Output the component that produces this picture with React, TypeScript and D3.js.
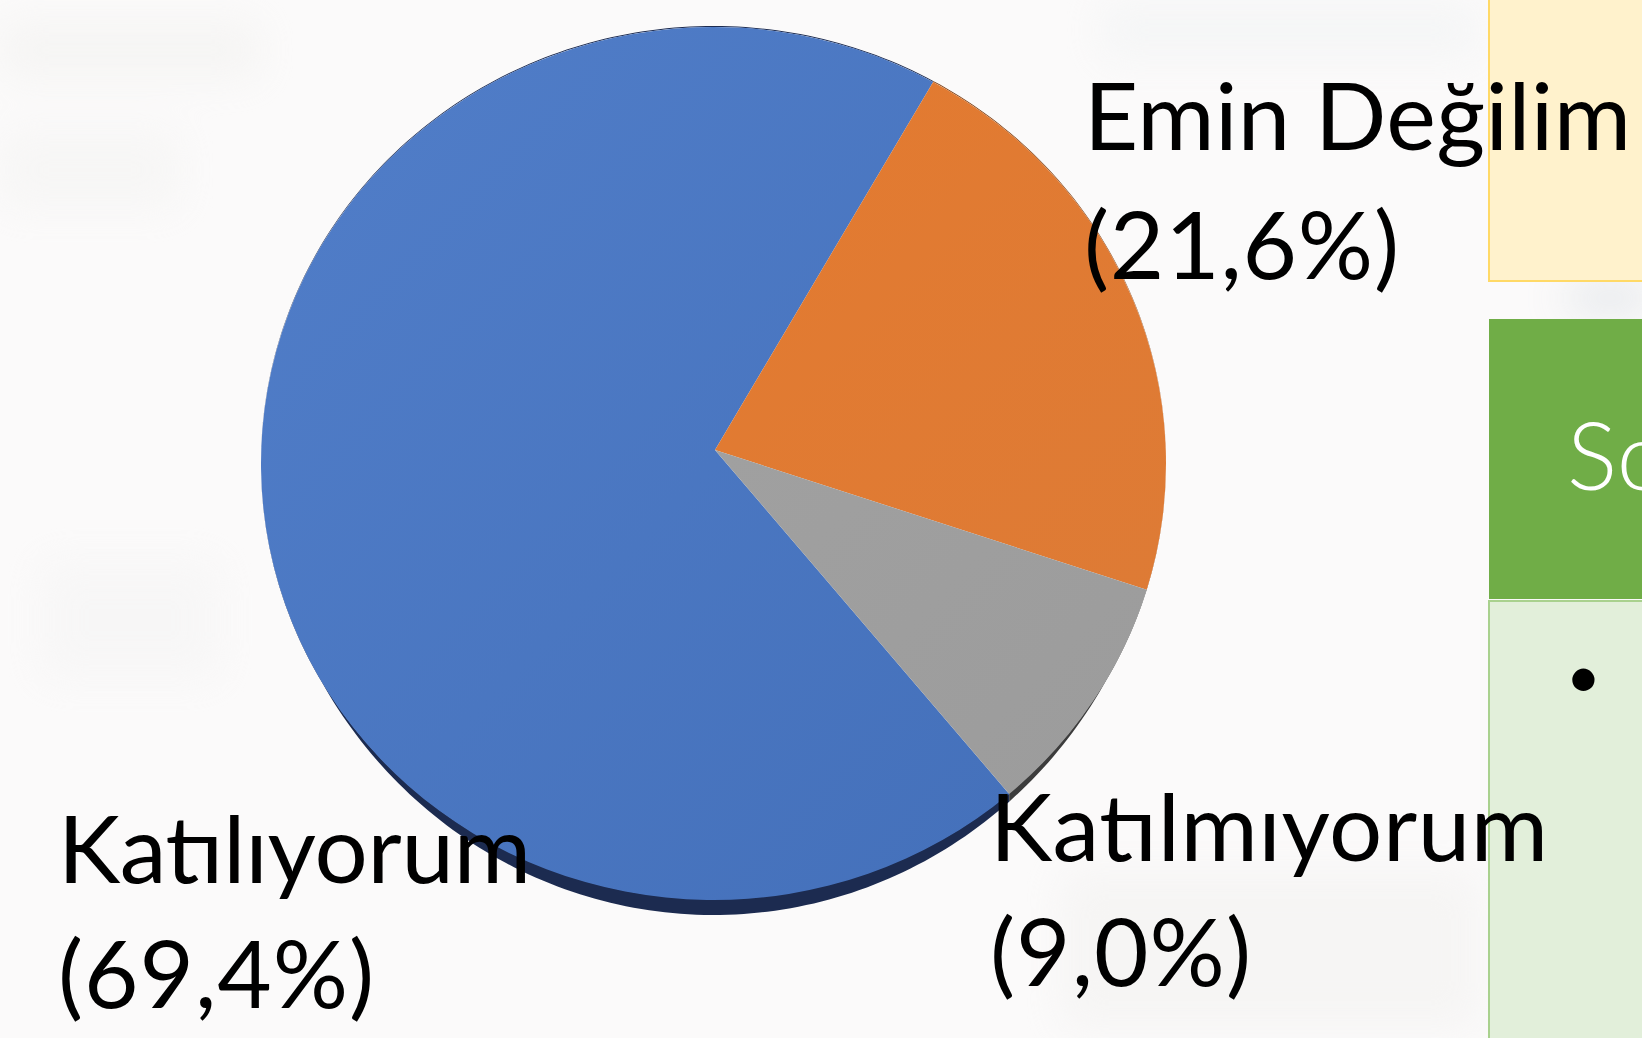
import React from "react";
import * as d3 from "d3";

// ---- data ----
const categories = ["Katılıyorum", "Emin Değilim", "Katılmıyorum"];
const values = [69.4, 21.6, 9.0];
const percentLabels = ["(69,4%)", "(21,6%)", "(9,0%)"];
const topColors = [
  ["#517ec9", "#436fb9"],
  ["#e67a2d", "#dc7b37"],
  ["#a5a5a5", "#9b9b9b"],
];
const sideColors = ["#1c2b50", "#7a3d12", "#3c3c3c"];
const panelTitle = "So";
const bulletChar = "•";

const W = 1642;
const H = 1038;

export default function App() {
  const cx = 713.5;
  const cy = 463.5;
  const rx = 452.5;
  const ry = 436.5;
  const apex = { x: 715, y: 450 };
  const depthMax = 15;
  const depthCut = 0.5;
  const start = (139.2 * Math.PI) / 180;

  const pie = d3
    .pie<number>()
    .sort(null)
    .value((d) => d)
    .startAngle(start)
    .endAngle(start + 2 * Math.PI);
  const arcs = pie(values);

  const pt = (a: number, dy = 0): [number, number] => [
    cx + rx * Math.sin(a),
    cy - ry * Math.cos(a) + dy,
  ];
  const depthAt = (a: number) =>
    depthMax * Math.max(0, (-Math.cos(a) - depthCut) / (1 - depthCut));

  const topPath = (a0: number, a1: number) => {
    const p0 = pt(a0);
    const p1 = pt(a1);
    const large = a1 - a0 > Math.PI ? 1 : 0;
    return `M${apex.x},${apex.y}L${p0[0]},${p0[1]}A${rx},${ry} 0 ${large} 1 ${p1[0]},${p1[1]}Z`;
  };
  const line = d3.line();
  const sidePath = (a0: number, a1: number) => {
    const n = Math.max(8, Math.ceil(((a1 - a0) * 180) / Math.PI));
    const angles = d3.range(n + 1).map((k) => a0 + ((a1 - a0) * k) / n);
    const upper = angles.map((a) => pt(a, -1));
    const lower = angles
      .slice()
      .reverse()
      .map((a) => pt(a, depthAt(a)));
    return line([...upper, ...lower]) + "Z";
  };

  const font = "Lato, 'Noto Sans', sans-serif";
  const fs = 94;

  // label placement: [x, nameBaseline, pctBaseline, nameWidth, pctWidth]
  const labelPos = [
    [58, 883, 1008, 473, 316],
    [1084, 150, 279, 547, 315],
    [990, 861, 986, 558, 261],
  ];

  return (
    <svg
      width={W}
      height={H}
      style={{ position: "absolute", left: 0, top: 0, display: "block" }}
    >
      <defs>
        {topColors.map((c, i) => (
          <linearGradient
            key={i}
            id={`g${i}`}
            gradientUnits="userSpaceOnUse"
            x1={cx - rx}
            y1={cy - ry}
            x2={cx + rx}
            y2={cy + ry}
          >
            <stop offset="0" stopColor={c[0]} />
            <stop offset="1" stopColor={c[1]} />
          </linearGradient>
        ))}
        <filter id="blur" x="-50%" y="-50%" width="200%" height="200%">
          <feGaussianBlur stdDeviation="20" />
        </filter>
      </defs>

      {/* background */}
      <rect x={0} y={0} width={W} height={H} fill="#fbfafa" />
      <g filter="url(#blur)" opacity={0.45}>
        <rect x={0} y={20} width={260} height={60} fill="#efefec" />
        <rect x={0} y={130} width={180} height={80} fill="#f2f2f0" />
        <rect x={40} y={560} width={180} height={120} fill="#f3f3f3" />
        <rect x={1100} y={0} width={380} height={60} fill="#eef1f2" />
        <rect x={1060} y={870} width={420} height={160} fill="#f0efed" />
        <ellipse cx={1610} cy={298} rx={50} ry={12} fill="#b9c4cf" />
      </g>

      {/* pie side (depth) */}
      {arcs.map((a, i) => (
        <path key={`s${i}`} d={sidePath(a.startAngle, a.endAngle)} fill={sideColors[i]} />
      ))}
      {/* pie top */}
      {arcs.map((a, i) => (
        <path key={`t${i}`} d={topPath(a.startAngle, a.endAngle)} fill={`url(#g${i})`} />
      ))}

      {/* right-hand panels */}
      <rect x={1489} y={-2} width={160} height={283} fill="#fff2cc" stroke="#ffd966" strokeWidth={2} />
      <rect x={1489} y={319} width={160} height={280} fill="#70ad47" />
      <rect x={1489} y={601} width={160} height={445} fill="#e2efda" stroke="#a9d18e" strokeWidth={2} />
      <text
        x={1567}
        y={490}
        fill="#ffffff"
        fontFamily={font}
        fontWeight={300}
        fontSize={fs}
      >
        {panelTitle}
      </text>
      <text x={1566} y={698} fill="#000" fontFamily={font} fontSize={60}>
        {bulletChar}
      </text>

      {/* labels */}
      {categories.map((c, i) => {
        const [x, y1, y2, w1, w2] = labelPos[i];
        return (
          <g key={`l${i}`} fontFamily={font} fontSize={fs} fill="#000">
            <text x={x} y={y1} textLength={w1} lengthAdjust="spacing">
              {c}
            </text>
            <text x={x} y={y2} textLength={w2} lengthAdjust="spacing">
              {percentLabels[i]}
            </text>
          </g>
        );
      })}
    </svg>
  );
}
